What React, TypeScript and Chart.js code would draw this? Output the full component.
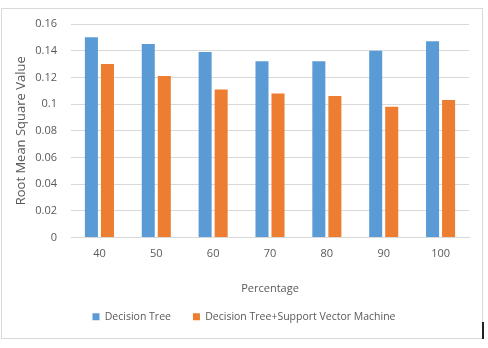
import React, { useEffect, useRef } from "react";
import { Chart, registerables } from "chart.js";

Chart.register(...registerables);

// Training-set percentage on the x axis
const categories = ["40", "50", "60", "70", "80", "90", "100"];

// Root mean square error for each model
const decisionTree = [0.15, 0.145, 0.139, 0.132, 0.132, 0.14, 0.147];
const decisionTreeSvm = [0.13, 0.121, 0.111, 0.108, 0.106, 0.098, 0.103];

const yTickLabels = ["0", "0.02", "0.04", "0.06", "0.08", "0.1", "0.12", "0.14", "0.16"];

const seriesNames = ["Decision Tree", "Decision Tree+Support Vector Machine"];

const BLUE = "#5B9BD5";
const ORANGE = "#ED7D31";
const TEXT = "#595959";
const GRID = "#D9D9D9";
const FONT = "'Open Sans', 'Noto Sans', sans-serif";

export default function App() {
  const canvasRef = useRef<HTMLCanvasElement | null>(null);

  useEffect(() => {
    const canvas = canvasRef.current;
    if (!canvas) return;
    const chart = new Chart(canvas, {
      type: "bar",
      data: {
        labels: categories,
        datasets: [
          {
            label: seriesNames[0],
            data: decisionTree,
            backgroundColor: BLUE,
            categoryPercentage: 0.564,
            barPercentage: 0.8125,
          },
          {
            label: seriesNames[1],
            data: decisionTreeSvm,
            backgroundColor: ORANGE,
            categoryPercentage: 0.564,
            barPercentage: 0.8125,
          },
        ],
      },
      options: {
        responsive: false,
        animation: false,
        layout: { padding: { left: 12, top: 24, right: 12, bottom: 16 } },
        plugins: {
          tooltip: { enabled: false },
          legend: {
            position: "bottom",
            labels: {
              boxWidth: 7,
              boxHeight: 7,
              padding: 22,
              color: TEXT,
              font: { family: FONT, size: 10.5 },
            },
          },
        },
        scales: {
          x: {
            grid: { display: false, drawTicks: false },
            border: { display: true, color: GRID, width: 1 },
            ticks: {
              color: TEXT,
              padding: 10,
              font: { family: FONT, size: 11 },
            },
            title: {
              display: true,
              text: "Percentage",
              color: TEXT,
              padding: { top: 0, bottom: -6 },
              font: { family: FONT, size: 11 },
            },
            afterFit: (scale: any) => {
              scale.height = 52;
            },
          },
          y: {
            min: 0,
            max: 0.16,
            grid: { color: GRID, drawTicks: false },
            border: { display: false },
            ticks: {
              stepSize: 0.02,
              color: TEXT,
              padding: 14,
              font: { family: FONT, size: 11 },
              callback: (_v: any, i: number) => yTickLabels[i],
            },
            title: {
              display: true,
              text: "Root Mean Square Value",
              color: TEXT,
              padding: { top: 1, bottom: 0 },
              font: { family: FONT, size: 13 },
            },
            afterFit: (scale: any) => {
              scale.width = 59;
            },
          },
          // empty strip on the right so the plot ends short of the frame
          yRight: {
            axis: "y",
            position: "right",
            grid: { display: false },
            border: { display: false },
            ticks: { display: false },
            afterFit: (scale: any) => {
              scale.width = 7;
            },
          },
        },
      },
    });
    return () => chart.destroy();
  }, []);

  return (
    <div style={{ position: "absolute", left: 0, top: 0, width: 488, height: 348, background: "#fff" }}>
      <div
        style={{
          position: "absolute",
          left: 1,
          top: 8,
          width: 482,
          height: 331,
          border: "1px solid #D9D9D9",
          boxSizing: "border-box",
        }}
      />
      <div
        style={{
          position: "absolute",
          left: 482,
          top: 322,
          width: 2,
          height: 17,
          background: "#222",
        }}
      />
      <canvas
        ref={canvasRef}
        width={488}
        height={348}
        style={{ position: "absolute", left: 0, top: 0, width: 488, height: 348 }}
      />
    </div>
  );
}
